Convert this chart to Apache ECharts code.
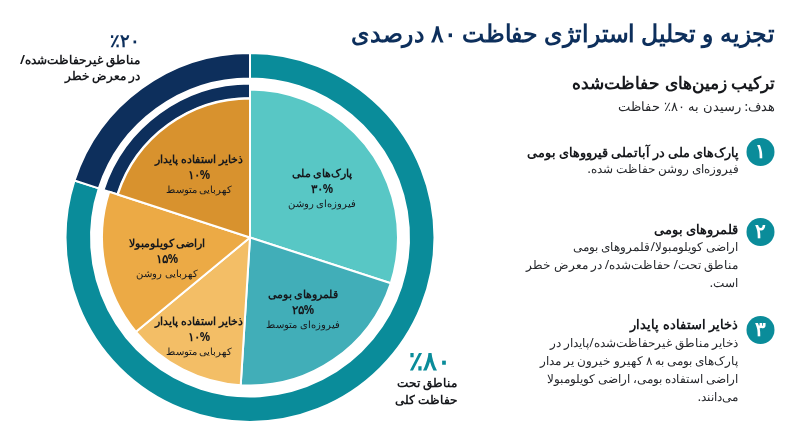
<!DOCTYPE html>
<html dir="rtl"><head><meta charset="utf-8">
<style>html,body{margin:0;padding:0;background:#fff}#c{width:800px;height:447px}</style>
<script src="https://cdn.jsdelivr.net/npm/echarts@6/dist/echarts.min.js"></script>
</head><body><div id="c" dir="rtl"></div>
<script>
// Data
const sliceNames = ['پارک‌های ملی','قلمروهای بومی','ذخایر استفاده پایدار','اراضی کویلومبولا','ذخایر استفاده پایدار'];
const slicePercentLabels = ['۳۰%','۲۵%','۱۰%','۱۵%','۱۰%'];
const sliceTones = ['فیروزه‌ای روشن','فیروزه‌ای متوسط','کهربایی متوسط','کهربایی روشن','کهربایی متوسط'];
const sliceDrawnShares = [30, 21, 13, 16, 20];   // shares as drawn in the picture
const ringNames = ['مناطق تحت حفاظت','مناطق غیرحفاظت‌شده'];
const ringShares = [80, 20];
// Styles / positions
const sliceColors = ['#58C7C5','#41AEB8','#F3BE66','#ECAA45','#D8922E'];
const sliceLabelPos = [[322,189],[303,310],[199,337],[167,259],[199,175]];
const TEAL='#0A8C9A', NAVY='#0D2F5C', INK='#16181c';
const FONT='"Noto Sans", sans-serif';
const C=[250,237.5];

const hidden={color:'transparent',borderWidth:0};
function sliceSeries(radius,show){
  return {type:'pie',radius:[0,radius],center:C,startAngle:90,silent:true,animation:false,
    labelLine:{show:false},
    label:{show:true,position:'inside',formatter:p=>`{a|${sliceNames[p.dataIndex]}}\n{b|${slicePercentLabels[p.dataIndex]}}\n{c|${sliceTones[p.dataIndex]}}`,
      rich:{a:{fontFamily:FONT,fontWeight:'bold',fontSize:11,color:INK,lineHeight:16,align:'center'},
            b:{fontFamily:FONT,fontWeight:'bold',fontSize:11.5,color:INK,lineHeight:15,align:'center'},
            c:{fontFamily:FONT,fontSize:9.6,color:INK,lineHeight:15,align:'center'}}},
    labelLayout:p=>({x:sliceLabelPos[p.dataIndex][0],y:sliceLabelPos[p.dataIndex][1],align:'center',verticalAlign:'middle'}),
    data:sliceDrawnShares.map((v,i)=>show(i)
      ?{value:v,name:sliceNames[i]+i,itemStyle:{color:sliceColors[i],borderColor:'#fff',borderWidth:2}}
      :{value:v,name:sliceNames[i]+i,itemStyle:hidden,label:{show:false}})};
}
function ringSeries(r0,r1,show){
  return {type:'pie',radius:[r0,r1],center:C,startAngle:90,silent:true,animation:false,label:{show:false},labelLine:{show:false},
    data:ringShares.map((v,i)=>show(i)
      ?{value:v,name:ringNames[i],itemStyle:{color:i?NAVY:TEAL,borderColor:'#fff',borderWidth:2}}
      :{value:v,name:ringNames[i],itemStyle:hidden})};
}
// Text blocks
const BODY='#26282c';
const texts=[
 ['تجزیه و تحلیل استراتژی حفاظت ۸۰ درصدی',775,35,'bold 24px',NAVY,0.98],
 ['ترکیب زمین‌های حفاظت‌شده',775,84,'bold 17px',INK],
 ['هدف: رسیدن به ۸۰٪ حفاظت',775,107,'13.4px',BODY],
 ['٪۲۰',140,42,'bold 18px',NAVY],
 ['مناطق غیرحفاظت‌شده/',140,61,'bold 12px',INK],
 ['در معرض خطر',140,77,'bold 12px',INK],
 ['٪۸۰',451,363,'bold 26px',TEAL],
 ['مناطق تحت',457,384,'bold 12px',INK],
 ['حفاظت کلی',457,401,'bold 12px',INK],
 ['پارک‌های ملی در آباتملی قیرووهای بومی',739,153,'bold 13px',INK,0.98],
 ['فیروزه‌ای روشن حفاظت شده.',739,170,'12px',BODY],
 ['قلمروهای بومی',738,230,'bold 13px',INK],
 ['اراضی کویلومبولا/قلمروهای بومی',738,248,'12px',BODY],
 ['مناطق تحت/ حفاظت‌شده/ در معرض خطر',738,266,'12px',BODY],
 ['است.',738,284,'12px',BODY],
 ['ذخایر استفاده پایدار',738,325,'bold 13px',INK],
 ['ذخایر مناطق غیرحفاظت‌شده/پایدار در',738,344,'12px',BODY],
 ['پارک‌های بومی به ۸ کهیرو خیرون یر مدار',738,362,'12px',BODY],
 ['اراضی استفاده بومی، اراضی کویلومبولا',738,380,'12px',BODY],
 ['می‌دانند.',738,398,'12px',BODY],
];
const badgeLabels=['۱','۲','۳'];
const badgeY=[152,232,330];
const graphic=texts.map(([t,x,y,f,col,sx])=>({type:'text',x,y,scaleX:sx||1,silent:true,
  style:{text:t,align:'right',verticalAlign:'middle',font:`${f} ${FONT}`,fill:col}}));
badgeLabels.forEach((t,i)=>{
  graphic.push({type:'circle',shape:{cx:760.5,cy:badgeY[i],r:14},style:{fill:TEAL},silent:true,z:5});
  graphic.push({type:'text',x:760.5,y:badgeY[i],z:6,silent:true,style:{text:t,align:'center',verticalAlign:'middle',font:`bold 20px ${FONT}`,fill:'#fff'}});
});
const chart=echarts.init(document.getElementById('c'),null,{renderer:'canvas'});
chart.setOption({animation:false,backgroundColor:'#fff',graphic,
 series:[ ringSeries(159,184.5,()=>true),
          ringSeries(139.5,154,i=>i===1),
          sliceSeries(148,i=>i<4),
          sliceSeries(139,i=>i===4) ]});
</script></body></html>
